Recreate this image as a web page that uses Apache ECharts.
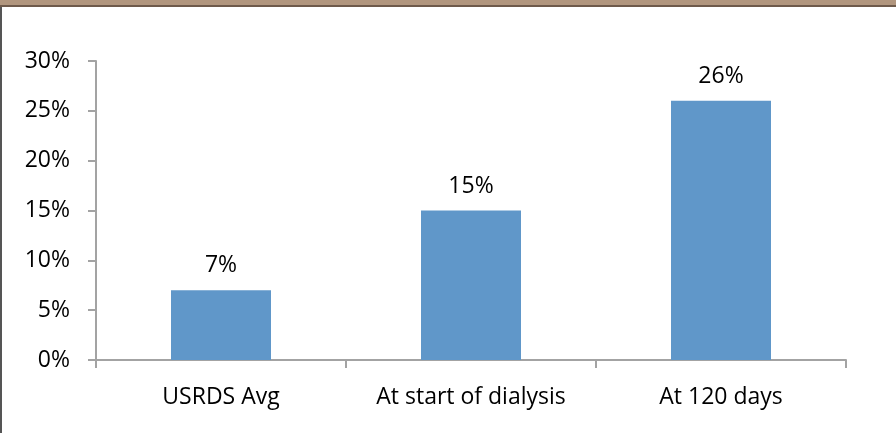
<!DOCTYPE html>
<html>
<head>
<meta charset="utf-8">
<style>
  html, body { margin: 0; padding: 0; background: #ffffff; }
  #chart { width: 896px; height: 433px; }
</style>
<script src="https://cdn.jsdelivr.net/npm/echarts@6/dist/echarts.min.js"></script>
</head>
<body>
<div id="chart"></div>
<script>
// Share of patients, by point of measurement
const categories = ['USRDS Avg', 'At start of dialysis', 'At 120 days'];
const values = [7, 15, 26];
const yTicks = [0, 5, 10, 15, 20, 25, 30];

const FONT = '"Open Sans", Lato, sans-serif';
const FONT_SIZE = 23;
const AXIS_COLOR = '#a3a3a3';

const chart = echarts.init(document.getElementById('chart'), null, { renderer: 'canvas' });

chart.setOption({
  animation: false,
  backgroundColor: '#ffffff',
  graphic: [
    // header strip along the top edge
    { type: 'rect', shape: { x: 0, y: 0, width: 896, height: 5 }, style: { fill: '#b1967e' } },
    { type: 'rect', shape: { x: 0, y: 5, width: 896, height: 2 }, style: { fill: '#6e5a4b' } },
    // left frame edge
    { type: 'rect', shape: { x: 0, y: 7, width: 2, height: 426 }, style: { fill: '#555555' } }
  ],
  grid: { left: 96, right: 50, top: 61, bottom: 73 },
  xAxis: {
    type: 'category',
    data: categories,
    axisLine: { lineStyle: { color: AXIS_COLOR, width: 2 } },
    axisTick: { show: true, length: 8, alignWithLabel: false, lineStyle: { color: AXIS_COLOR, width: 2 } },
    axisLabel: { color: '#000000', fontFamily: FONT, fontSize: FONT_SIZE, margin: 26 }
  },
  yAxis: {
    type: 'value',
    min: yTicks[0],
    max: yTicks[yTicks.length - 1],
    interval: 5,
    axisLine: { show: true, lineStyle: { color: AXIS_COLOR, width: 2 } },
    axisTick: { show: true, length: 8, lineStyle: { color: AXIS_COLOR, width: 2 } },
    splitLine: { show: false },
    axisLabel: {
      color: '#000000', fontFamily: FONT, fontSize: FONT_SIZE, margin: 26,
      formatter: v => v + '%'
    }
  },
  series: [{
    type: 'bar',
    data: values,
    barWidth: '40%',
    itemStyle: { color: '#6097c9' },
    label: {
      show: true,
      position: 'top',
      distance: 13,
      color: '#000000',
      fontFamily: FONT,
      fontSize: FONT_SIZE,
      formatter: p => p.value + '%'
    }
  }]
});
</script>
</body>
</html>
